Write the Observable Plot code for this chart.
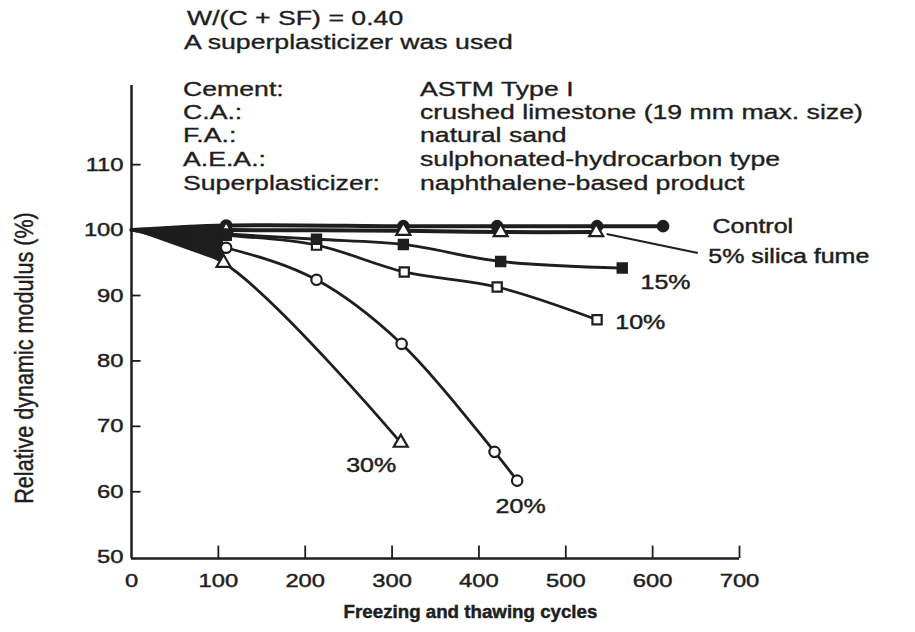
<!DOCTYPE html>
<html>
<head>
<meta charset="utf-8">
<script src="https://cdn.jsdelivr.net/npm/d3@7"></script>
<script src="https://cdn.jsdelivr.net/npm/@observablehq/plot@0.6"></script>
<style>
  html, body { margin: 0; padding: 0; background: #fff; }
  #wrap { position: relative; width: 915px; height: 632px; overflow: hidden; color: #1e1e1e;
          font-family: "Liberation Sans", Arial, Helvetica, sans-serif; }
  .hd { position: absolute; font-size: 20.5px; line-height: 1; white-space: nowrap;
        transform: scaleX(1.3); transform-origin: 0 0; -webkit-text-stroke: 0.35px #1e1e1e; }
</style>
</head>
<body>
<div id="wrap">
  <div class="hd" style="left:187px; top:8px;">W/(C + SF) = 0.40</div>
  <div class="hd" style="left:184px; top:32px;">A superplasticizer was used</div>
  <div class="hd" style="left:183px; top:79px;">Cement:</div>
  <div class="hd" style="left:420px; top:79px;">ASTM Type I</div>
  <div class="hd" style="left:183px; top:102px;">C.A.:</div>
  <div class="hd" style="left:420px; top:102px;">crushed limestone (19 mm max. size)</div>
  <div class="hd" style="left:183px; top:125px;">F.A.:</div>
  <div class="hd" style="left:420px; top:125px;">natural sand</div>
  <div class="hd" style="left:183px; top:149px;">A.E.A.:</div>
  <div class="hd" style="left:420px; top:149px;">sulphonated-hydrocarbon type</div>
  <div class="hd" style="left:183px; top:173px;">Superplasticizer:</div>
  <div class="hd" style="left:420px; top:173px;">naphthalene-based product</div>
</div>
<script>
// ---- data ----
const xTicks = [0, 100, 200, 300, 400, 500, 600, 700];
const yTicks = [50, 60, 70, 80, 90, 100, 110];

const cyclesControl = [0, 109, 313, 421, 536, 612];
const modulusControl = [100, 100.7, 100.6, 100.6, 100.6, 100.6];

const cyclesSF5 = [0, 109, 313, 425, 535];
const modulusSF5 = [100, 100.0, 99.9, 99.7, 99.7];

const cyclesSF10 = [0, 109, 213, 314, 421, 536];
const modulusSF10 = [100, 99.2, 97.7, 93.6, 91.3, 86.3];

const cyclesSF15 = [0, 109, 213, 313, 425, 565];
const modulusSF15 = [100, 99.4, 98.6, 97.8, 95.2, 94.2];

const cyclesSF20 = [0, 109, 213, 311, 418, 444];
const modulusSF20 = [100, 97.3, 92.4, 82.6, 66.1, 61.7];

const cyclesSF30 = [0, 106, 310];
const modulusSF30 = [100, 95.0, 67.5];

const seriesNames = ["Control", "5%", "10%", "15%", "20%", "30%"];
const seriesSymbols = ["circle", "triangle", "square", "square", "circle", "triangle"];
const seriesFilled = [true, false, false, true, false, false];

const rightLabelTexts = ["Control", "5% silica fume", "15%", "10%"];
const rightLabelCycles = [669, 664, 586, 557];
const rightLabelModulus = [100.5, 96.0, 91.9, 85.8];

const lowLabelTexts = ["30%", "20%"];
const lowLabelCycles = [276, 448];
const lowLabelModulus = [64.0, 57.7];

const leaderCycles = [547, 652];
const leaderModulus = [99.4, 96.5];

const xTitle = "Freezing and thawing cycles";
const yTitle = "Relative dynamic modulus (%)";

// ---- build tables ----
const seriesX = [cyclesControl, cyclesSF5, cyclesSF10, cyclesSF15, cyclesSF20, cyclesSF30];
const seriesY = [modulusControl, modulusSF5, modulusSF10, modulusSF15, modulusSF20, modulusSF30];
const series = seriesNames.map((name, k) => ({
  name, symbol: seriesSymbols[k], filled: seriesFilled[k],
  points: seriesX[k].map((x, i) => ({series: name, x, y: seriesY[k][i], i}))
}));
const allPoints = series.flatMap(s => s.points);
const rightLabels = rightLabelTexts.map((t, i) => ({t, x: rightLabelCycles[i], y: rightLabelModulus[i]}));
const lowLabels = lowLabelTexts.map((t, i) => ({t, x: lowLabelCycles[i], y: lowLabelModulus[i]}));
const leader = [{x1: leaderCycles[0], y1: leaderModulus[0], x2: leaderCycles[1], y2: leaderModulus[1]}];

// dark wedge where all curves leave the origin (between Control and 30%)
const wedge = cyclesSF30.slice(0, 2).map((x, i) => ({x, y1: modulusSF30[i], y2: modulusControl[i]}));

const yMin = 49.8, yMax = 122.1;
const ink = "#1e1e1e";
const font = "'Liberation Sans', Arial, Helvetica, sans-serif";

const marks = [
  Plot.ruleX([0], {stroke: ink, strokeWidth: 2.5}),
  Plot.ruleY([yMin], {stroke: ink, strokeWidth: 2.5}),
  Plot.ruleY(yTicks.slice(1), {x1: 0, x2: 11, stroke: ink, strokeWidth: 1.8}),
  Plot.ruleX(xTicks.slice(1), {y1: yMin, y2: yMin + 1.9, stroke: ink, strokeWidth: 1.8}),
  Plot.axisY({ticks: yTicks, tickSize: 0, tickPadding: 8, label: null, fontSize: 19, fill: ink}),
  Plot.axisX({ticks: xTicks, tickSize: 0, tickPadding: 15, label: null, fontSize: 19, fill: ink}),
  Plot.areaY(wedge, {x: "x", y1: "y1", y2: "y2", fill: ink}),
  Plot.line(allPoints.filter(d => d.series === "Control" || d.series === "5%"),
    {x: "x", y: "y", z: "series", curve: "catmull-rom", stroke: ink, strokeWidth: 4}),
  Plot.line(allPoints.filter(d => d.series !== "Control" && d.series !== "5%"),
    {x: "x", y: "y", z: "series", curve: "catmull-rom", stroke: ink, strokeWidth: 2.8}),
  Plot.link(leader, {x1: "x1", y1: "y1", x2: "x2", y2: "y2", stroke: ink, strokeWidth: 2}),
  ...series.map(s => Plot.dot(s.points.filter(d => d.i > 0), {
    x: "x", y: "y", symbol: s.symbol, r: 5.2,
    fill: s.filled ? ink : "white", stroke: ink, strokeWidth: 2.2
  })),
  Plot.text(rightLabels, {x: "x", y: "y", text: "t", textAnchor: "start", fontSize: 20, fill: ink}),
  Plot.text(lowLabels, {x: "x", y: "y", text: "t", textAnchor: "middle", fontSize: 20, fill: ink}),
  Plot.text([xTitle], {text: d => d, frameAnchor: "bottom", textAnchor: "middle", dx: 35, dy: 59,
    fontSize: 18, fontWeight: "bold", fill: ink}),
  Plot.text([yTitle], {text: d => d, frameAnchor: "left", textAnchor: "middle", dx: -107, dy: 36,
    rotate: -90, fontSize: 24, fill: ink})
];

const chart = Plot.plot({
  width: 915, height: 632,
  marginLeft: 131, marginRight: 176, marginTop: 85, marginBottom: 74,
  x: {domain: [0, 700]},
  y: {domain: [yMin, yMax]},
  style: {background: "transparent", color: ink, fontFamily: font},
  marks
});

// the scanned original is stretched horizontally: widen text glyphs about their anchors
d3.select(chart).selectAll("text").each(function() {
  const t = this.getAttribute("transform") || "";
  const txt = this.textContent;
  let s = " scale(1.25,1)";
  if (/rotate/.test(t)) s = " scale(0.9,1.05)";
  else if (txt === xTitle) s = " scale(1.04,1)";
  this.setAttribute("transform", t + s);
  this.style.stroke = ink;
  this.style.strokeWidth = "0.45px";
});

chart.style.position = "absolute";
chart.style.left = "0px";
chart.style.top = "0px";
document.getElementById("wrap").prepend(chart);
</script>
</body>
</html>
